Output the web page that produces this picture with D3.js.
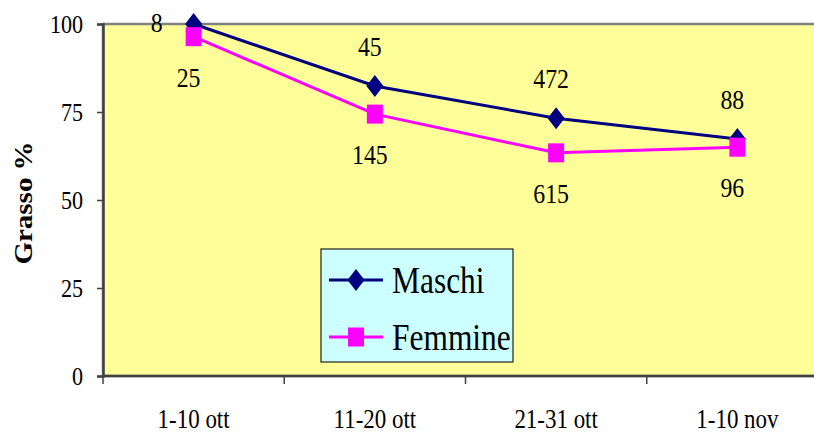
<!DOCTYPE html>
<html>
<head>
<meta charset="utf-8">
<script src="https://cdn.jsdelivr.net/npm/d3@7"></script>
<style>
  html, body { margin: 0; padding: 0; background: #ffffff; }
  svg { display: block; }
  svg text { font-family: "Liberation Serif", "Times New Roman", serif !important; fill: #000; }
  .narrow { transform-box: fill-box; transform-origin: center; transform: scaleX(0.85); }
  .narrowL { transform-box: fill-box; transform-origin: left center; transform: scaleX(0.85); }
  .narrowR { transform-box: fill-box; transform-origin: right center; transform: scaleX(0.85); }
  .narrowV { transform-box: fill-box; transform-origin: center; transform: scaleY(0.85); }
</style>
</head>
<body>
<svg id="chart" width="814" height="432"></svg>
<script>
// Periods of the survey
const categories = ["1-10 ott", "11-20 ott", "21-31 ott", "1-10 nov"];
// Fat percentage per period
const maschiValues = [100, 82.4, 73.2, 67.3];
const femmineValues = [96.4, 74.4, 63.4, 65.0];
// Number of animals per period (point labels)
const maschiCounts = [8, 45, 472, 88];
const femmineCounts = [25, 145, 615, 96];
// Axis ticks
const yTicks = [0, 25, 50, 75, 100];
const seriesNames = ["Maschi", "Femmine"];

const svg = d3.select("#chart");
const W = 814, H = 432;
const plot = { left: 103, top: 24, right: 828, bottom: 376 };

const x = d3.scaleBand().domain(categories).range([plot.left, plot.right]).padding(0);
const y = d3.scaleLinear().domain([0, 100]).range([plot.bottom, plot.top]);
const cx = d => x(d) + x.bandwidth() / 2;

// Plot area
svg.append("rect")
  .attr("x", plot.left).attr("y", plot.top)
  .attr("width", plot.right - plot.left).attr("height", plot.bottom - plot.top)
  .attr("fill", "#ffff99")
  .attr("stroke", "#808080").attr("stroke-width", 2.5);

// Y axis
const yAxis = svg.append("g")
  .attr("transform", `translate(${plot.left},0)`)
  .call(d3.axisLeft(y).tickValues(yTicks).tickSize(6).tickPadding(14).tickFormat(d3.format("d")));
yAxis.attr("font-family", null).attr("font-size", null);
yAxis.select(".domain").attr("stroke", "#404040").attr("stroke-width", 2.5);
yAxis.selectAll(".tick line").attr("stroke", "#404040").attr("stroke-width", 1.5);
yAxis.selectAll(".tick text")
  .attr("class", "narrowR")
  .attr("dy", "0.34em")
  .style("font-size", "26px");

// X axis: line, boundary ticks, centered labels
const xAxisG = svg.append("g");
xAxisG.append("line")
  .attr("x1", plot.left).attr("x2", W + 5)
  .attr("y1", y(0)).attr("y2", y(0))
  .attr("stroke", "#404040").attr("stroke-width", 2.5);
const boundaries = categories.map(c => x(c)).concat([x.range()[1]]);
xAxisG.selectAll("line.tick")
  .data(boundaries).join("line")
  .attr("class", "tick")
  .attr("x1", d => d).attr("x2", d => d)
  .attr("y1", y(0)).attr("y2", y(0) + 8)
  .attr("stroke", "#404040").attr("stroke-width", 1.5);
xAxisG.selectAll("text.cat")
  .data(categories).join("text")
  .attr("class", "cat narrow")
  .attr("x", d => cx(d))
  .attr("y", y(0) + 52)
  .attr("text-anchor", "middle")
  .style("font-size", "27px")
  .text(d => d);

// Y axis title
svg.append("g")
  .attr("transform", `translate(33,${(plot.top + plot.bottom) / 2 + 3}) rotate(-90)`)
  .append("text")
  .attr("class", "narrowV")
  .attr("text-anchor", "middle")
  .style("font-size", "29px")
  .style("font-weight", "bold")
  .text("Grasso %");

// Markers
const diamond = (g, color) => g.append("path")
  .attr("d", "M0,-11L8.5,0L0,11L-8.5,0Z")
  .attr("fill", color);
const square = (g, color) => g.append("rect")
  .attr("x", -8).attr("y", -9.5).attr("width", 16).attr("height", 19)
  .attr("fill", color);

const series = [
  { name: seriesNames[0], values: maschiValues, counts: maschiCounts, color: "#000080", marker: diamond, above: true },
  { name: seriesNames[1], values: femmineValues, counts: femmineCounts, color: "#ff00ff", marker: square, above: false }
];

const line = d3.line().x(d => cx(d.cat)).y(d => y(d.v));

series.forEach(s => {
  const pts = categories.map((c, i) => ({ cat: c, v: s.values[i], n: s.counts[i] }));
  svg.append("path")
    .datum(pts)
    .attr("d", line)
    .attr("fill", "none")
    .attr("stroke", s.color)
    .attr("stroke-width", 3);
  pts.forEach(p => {
    const g = svg.append("g").attr("transform", `translate(${cx(p.cat)},${y(p.v)})`);
    s.marker(g, s.color);
  });
});

// Point labels (counts)
series.forEach(s => {
  categories.forEach((c, i) => {
    const px = cx(c), py = y(s.values[i]);
    let tx = px - 5, ty, cls = "narrow", anchor = "middle";
    if (s.above) {
      ty = py - 30;
      if (ty - 20 < 0) { // no room above: place at the left of the marker
        tx = px - 31; ty = py + 8; anchor = "end"; cls = "narrowR";
      }
    } else {
      ty = py + 50;
    }
    svg.append("text")
      .attr("class", cls)
      .attr("x", tx).attr("y", ty)
      .attr("text-anchor", anchor)
      .style("font-size", "28px")
      .text(s.counts[i]);
  });
});

// Legend
const legend = svg.append("g").attr("transform", "translate(321,249)");
legend.append("rect")
  .attr("width", 192).attr("height", 113)
  .attr("fill", "#ccffff")
  .attr("stroke", "#202020").attr("stroke-width", 1.2);
series.forEach((s, i) => {
  const row = legend.append("g").attr("transform", `translate(0,${31 + i * 57})`);
  row.append("line")
    .attr("x1", 8).attr("x2", 62)
    .attr("stroke", s.color).attr("stroke-width", 3);
  s.marker(row.append("g").attr("transform", "translate(35,0)"), s.color);
  row.append("text")
    .attr("class", "narrowL")
    .attr("x", 71).attr("y", 0).attr("dy", "0.36em")
    .style("font-size", "37px")
    .text(s.name);
});
</script>
</body>
</html>
